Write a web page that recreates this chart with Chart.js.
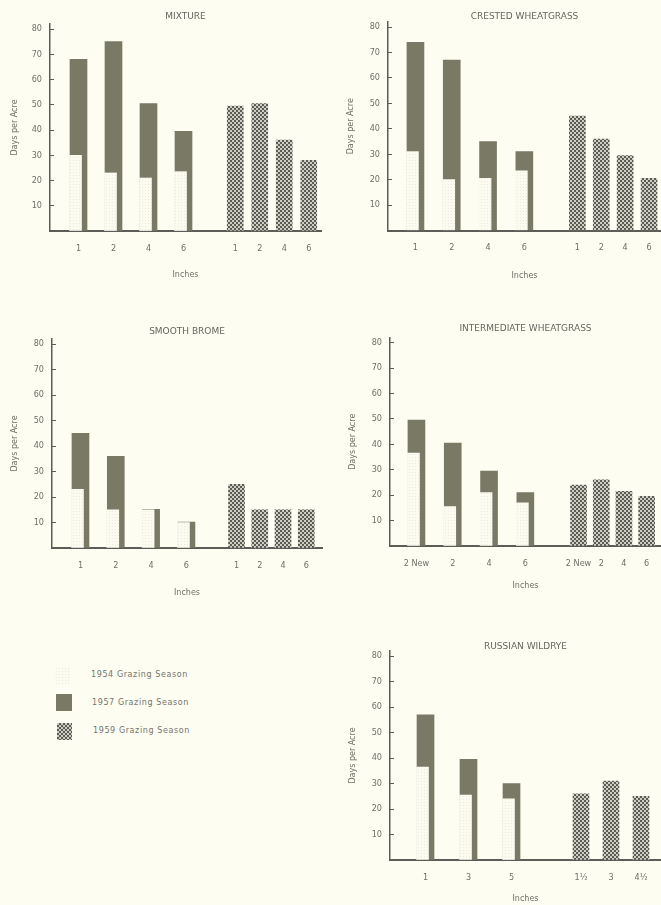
<!DOCTYPE html>
<html>
<head>
<meta charset="utf-8">
<title>Days per Acre by stubble height</title>
<script src="https://cdn.jsdelivr.net/npm/chart.js@4.4.1/dist/chart.umd.min.js"></script>
<style>
  html, body { margin: 0; padding: 0; background: #fdfdf2; }
  #page { position: relative; width: 661px; height: 905px; overflow: hidden; background: #fdfdf2; font-family: 'DejaVu Sans', sans-serif; }
  .panel { position: absolute; }
  .swatch { position: absolute; }
  .key { position: absolute; font-size: 8px; line-height: 10px; letter-spacing: 0.6px; color: #74746c; white-space: nowrap; }
</style>
</head>
<body>
<div id="page">
  <div class="panel" style="left:0;top:0;width:330px;height:300px"><canvas id="mixture"></canvas></div>
  <div class="panel" style="left:330px;top:0;width:331px;height:300px"><canvas id="crested"></canvas></div>
  <div class="panel" style="left:0;top:300px;width:330px;height:300px"><canvas id="brome"></canvas></div>
  <div class="panel" style="left:330px;top:300px;width:331px;height:300px"><canvas id="intermediate"></canvas></div>
  <div class="panel" style="left:330px;top:600px;width:331px;height:305px"><canvas id="wildrye"></canvas></div>

  <canvas class="swatch" id="key1954" width="16" height="17" style="left:55px;top:667px"></canvas>
  <div class="key" style="left:91px;top:670px">1954 Grazing Season</div>
  <canvas class="swatch" id="key1957" width="16" height="17" style="left:56px;top:694px"></canvas>
  <div class="key" style="left:92px;top:698px">1957 Grazing Season</div>
  <canvas class="swatch" id="key1959" width="15" height="17" style="left:57px;top:723px"></canvas>
  <div class="key" style="left:93px;top:726px">1959 Grazing Season</div>
</div>
<script>
// days per acre
const mixtureDepths = ['1', '2', '4', '6'];
const mixture1954 = [30, 23, 21, 23.5];
const mixture1957 = [68, 75, 50.5, 39.5];
const mixtureDepths1959 = ['1', '2', '4', '6'];
const mixture1959 = [49.5, 50.5, 36, 28];

const crestedDepths = ['1', '2', '4', '6'];
const crested1954 = [31, 20, 20.5, 23.5];
const crested1957 = [74, 67, 35, 31];
const crestedDepths1959 = ['1', '2', '4', '6'];
const crested1959 = [45, 36, 29.5, 20.5];

const bromeDepths = ['1', '2', '4', '6'];
const brome1954 = [23, 15, 15, 10];
const brome1957 = [45, 36, 15.2, 10.2];
const bromeDepths1959 = ['1', '2', '4', '6'];
const brome1959 = [25, 15, 15, 15];

const intermediateDepths = ['2 New', '2', '4', '6'];
const intermediate1954 = [36.5, 15.5, 21, 17];
const intermediate1957 = [49.5, 40.5, 29.5, 21];
const intermediateDepths1959 = ['2 New', '2', '4', '6'];
const intermediate1959 = [24, 26, 21.5, 19.5];

const wildryeDepths = ['1', '3', '5'];
const wildrye1954 = [36.5, 25.5, 24];
const wildrye1957 = [57, 39.5, 30];
const wildryeDepths1959 = ['1\u00bd', '3', '4\u00bd'];
const wildrye1959 = [26, 31, 25];

// panel geometry (canvas pixels); spans = widths of lead, pairs, gap, 1959 group, trail
const geoMixture = { height: 300, yWidth: 50, padRight: 9, titleY: 17, areaTop: 24, areaBottom: 231, inchesY: 275, yTitleX: 15, spans: [11, 140, 22, 98, 0] };
const geoCrested = { height: 300, yWidth: 58, padRight: 0, titleY: 17, areaTop: 22, areaBottom: 230.5, inchesY: 276, yTitleX: 21, spans: [9.3, 145.2, 22.9, 95.6, 0] };
const geoBrome = { height: 300, yWidth: 52, padRight: 8, titleY: 32, areaTop: 39, areaBottom: 248, inchesY: 293, yTitleX: 14.5, spans: [10.8, 141.3, 20.8, 93, 4.1] };
const geoIntermediate = { height: 300, yWidth: 60, padRight: 0, titleY: 29, areaTop: 37.5, areaBottom: 246, inchesY: 286, yTitleX: 22.5, spans: [8.3, 145.2, 23.7, 90.8, 3] };
const geoWildrye = { height: 305, yWidth: 60, padRight: 0, titleY: 47, areaTop: 51, areaBottom: 260, inchesY: 299, yTitleX: 23, spans: [14, 129, 33, 90, 5] };

Chart.defaults.font.family = "'DejaVu Sans', sans-serif";
Chart.defaults.color = '#707068';

const ink = '#5d5d57';
const textGray = '#707068';
const tickFont = { family: "'Liberation Sans Narrow', 'DejaVu Sans Condensed', 'DejaVu Sans', sans-serif", size: 9 };
const titleFont = { size: 9, weight: 'normal' };
const labelFont = { size: 8 };
const axisH = 22;
const shift1954 = 3; // the 1954 bar sits left-aligned in front of the wider 1957 bar

function pattern(size, paint) {
    const c = document.createElement('canvas');
    c.width = size;
    c.height = size;
    const g = c.getContext('2d');
    paint(g);
    return g.createPattern(c, 'repeat');
}

const fill1954 = pattern(3, g => {
    g.fillStyle = '#fbfbf0';
    g.fillRect(0, 0, 3, 3);
    g.fillStyle = '#ebebdf';
    g.fillRect(1, 1, 1, 1);
});
const fill1957 = '#7a7966';
const fill1959 = pattern(4, g => {
    g.fillStyle = '#5c5c56';
    g.fillRect(0, 0, 4, 4);
    g.fillStyle = '#f3f3e7';
    g.beginPath(); g.arc(1, 1, 1, 0, Math.PI * 2); g.fill();
    g.beginPath(); g.arc(3, 3, 1, 0, Math.PI * 2); g.fill();
});

function xAxis(labels, weight, show) {
    return {
        type: 'category',
        labels: labels,
        offset: true,
        position: 'bottom',
        stack: 'inches',
        stackWeight: weight,
        grid: { display: false, drawTicks: true, tickLength: 12 },
        border: { color: ink, width: 2 },
        ticks: { display: show, padding: 0, autoSkip: false, maxRotation: 0, minRotation: 0, font: tickFont, color: textGray },
        afterFit: s => { s.height = axisH; }
    };
}

// invisible, zero-height axis used to place the 1954 bars slightly left of the pair centre
function hiddenAxis(labels, weight) {
    return {
        type: 'category',
        labels: labels,
        offset: true,
        position: 'bottom',
        stack: 'shifted',
        stackWeight: weight,
        grid: { display: false },
        border: { display: false },
        ticks: { display: false },
        afterFit: s => { s.height = 0; }
    };
}

function makePanel(id, title, depths, v1954, v1957, depths1959, v1959, geo) {
    const [lead, pairs, gap, late, trail] = geo.spans;
    const scales = {};
    scales.xLead = xAxis([''], lead, false);
    scales.xPairs = xAxis(depths, pairs, true);
    scales.xGap = xAxis([''], gap, false);
    scales.xLate = xAxis(depths1959, late, true);
    if (trail > 0) scales.xTrail = xAxis([''], trail, false);
    scales.xLeadShift = hiddenAxis([''], lead - shift1954);
    scales.xPairsShift = hiddenAxis(depths, pairs);
    scales.xRestShift = hiddenAxis([''], gap + late + trail + shift1954);
    scales.y = {
        type: 'linear',
        position: 'left',
        min: 0,
        max: 82,
        stacked: false,
        grid: { drawOnChartArea: false, drawTicks: true, tickLength: -4, color: ink, lineWidth: 1 },
        border: { color: ink, width: 1.5 },
        ticks: {
            stepSize: 10,
            includeBounds: false,
            padding: 12,
            font: tickFont,
            color: textGray,
            callback: v => (v > 0 && v % 10 === 0 ? v : '')
        },
        title: { display: true, text: 'Days per Acre', font: labelFont, color: textGray, padding: { top: geo.yTitleX - 4.8, bottom: 0 } },
        afterFit: s => { s.width = geo.yWidth; }
    };

    new Chart(document.getElementById(id), {
        type: 'bar',
        data: {
            datasets: [
                { label: '1954 Grazing Season', data: v1954, xAxisID: 'xPairsShift', yAxisID: 'y', order: 0, backgroundColor: fill1954, maxBarThickness: 12 },
                { label: '1957 Grazing Season', data: v1957, xAxisID: 'xPairs', yAxisID: 'y', order: 1, backgroundColor: fill1957, maxBarThickness: 17 },
                { label: '1959 Grazing Season', data: v1959, xAxisID: 'xLate', yAxisID: 'y', order: 0, backgroundColor: fill1959, maxBarThickness: 16 }
            ]
        },
        options: {
            responsive: true,
            maintainAspectRatio: false,
            animation: false,
            datasets: { bar: { grouped: false, categoryPercentage: 1, barPercentage: 1, borderWidth: 0 } },
            layout: { padding: { left: 0, right: geo.padRight, top: 0, bottom: 0 } },
            scales: scales,
            plugins: {
                legend: { display: false },
                tooltip: { enabled: false },
                title: {
                    display: true,
                    text: title,
                    fullSize: false,
                    color: '#66665f',
                    font: titleFont,
                    padding: { top: geo.titleY - 5.4, bottom: geo.areaTop - geo.titleY - 5.4 }
                },
                subtitle: {
                    display: true,
                    text: 'Inches',
                    position: 'bottom',
                    fullSize: false,
                    color: textGray,
                    font: labelFont,
                    padding: { top: geo.inchesY - 4.8 - geo.areaBottom - axisH, bottom: geo.height - geo.inchesY - 4.8 }
                }
            }
        }
    });
}

makePanel('mixture', 'MIXTURE', mixtureDepths, mixture1954, mixture1957, mixtureDepths1959, mixture1959, geoMixture);
makePanel('crested', 'CRESTED WHEATGRASS', crestedDepths, crested1954, crested1957, crestedDepths1959, crested1959, geoCrested);
makePanel('brome', 'SMOOTH BROME', bromeDepths, brome1954, brome1957, bromeDepths1959, brome1959, geoBrome);
makePanel('intermediate', 'INTERMEDIATE WHEATGRASS', intermediateDepths, intermediate1954, intermediate1957, intermediateDepths1959, intermediate1959, geoIntermediate);
makePanel('wildrye', 'RUSSIAN WILDRYE', wildryeDepths, wildrye1954, wildrye1957, wildryeDepths1959, wildrye1959, geoWildrye);

function paintKey(id, fill) {
    const c = document.getElementById(id);
    const g = c.getContext('2d');
    g.fillStyle = fill;
    g.fillRect(0, 0, c.width, c.height);
}
paintKey('key1954', fill1954);
paintKey('key1957', fill1957);
paintKey('key1959', fill1959);
</script>
</body>
</html>
